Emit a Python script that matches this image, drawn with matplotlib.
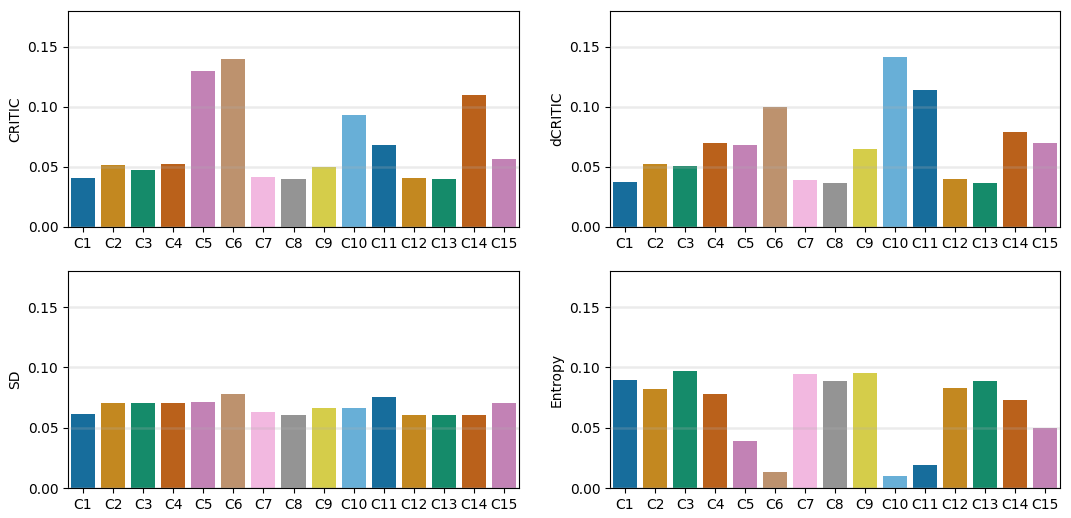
import matplotlib
matplotlib.use("Agg")
import matplotlib.pyplot as plt
import seaborn as sns
import pandas as pd

categories = [f"C{i}" for i in range(1, 16)]
critic = [0.0408, 0.0517, 0.0475, 0.0525, 0.130, 0.140, 0.0417, 0.040, 0.050,
          0.0933, 0.0683, 0.0408, 0.040, 0.110, 0.0567]
dcritic = [0.0375, 0.0525, 0.0508, 0.070, 0.0683, 0.100, 0.0392, 0.0367, 0.065,
           0.1417, 0.1142, 0.040, 0.0367, 0.0792, 0.070]
sd = [0.0613, 0.0704, 0.0704, 0.0704, 0.0713, 0.0779, 0.063, 0.0605, 0.0663,
      0.0663, 0.0754, 0.0605, 0.0605, 0.0605, 0.0704]
entropy = [0.0895, 0.082, 0.097, 0.078, 0.039, 0.0133, 0.0945, 0.0887, 0.0953,
           0.010, 0.019, 0.083, 0.0887, 0.073, 0.0497]

series = [("CRITIC", critic), ("dCRITIC", dcritic), ("SD", sd), ("Entropy", entropy)]

fig = plt.figure(figsize=(10.71, 5.18), dpi=100)
rects = [
    (0.0635, 0.5618, 0.4211, 0.4170),
    (0.5696, 0.5618, 0.4201, 0.4170),
    (0.0635, 0.0579, 0.4211, 0.4189),
    (0.5696, 0.0579, 0.4201, 0.4189),
]
for rect, (name, vals) in zip(rects, series):
    ax = fig.add_axes(rect)
    df = pd.DataFrame({"crit": categories, "w": vals})
    sns.barplot(data=df, x="crit", y="w", hue="crit", palette="colorblind",
                legend=False, ax=ax)
    ax.set_ylim(0, 0.18)
    ax.set_yticks([0.0, 0.05, 0.10, 0.15])
    ax.set_yticklabels(["0.00", "0.05", "0.10", "0.15"])
    ax.set_xlabel("")
    ax.set_ylabel(name)
    ax.grid(axis="y", color="#b0b0b0", alpha=0.25, linewidth=1.8)
    ax.set_axisbelow(False)

fig.savefig("out.png", dpi=100)
